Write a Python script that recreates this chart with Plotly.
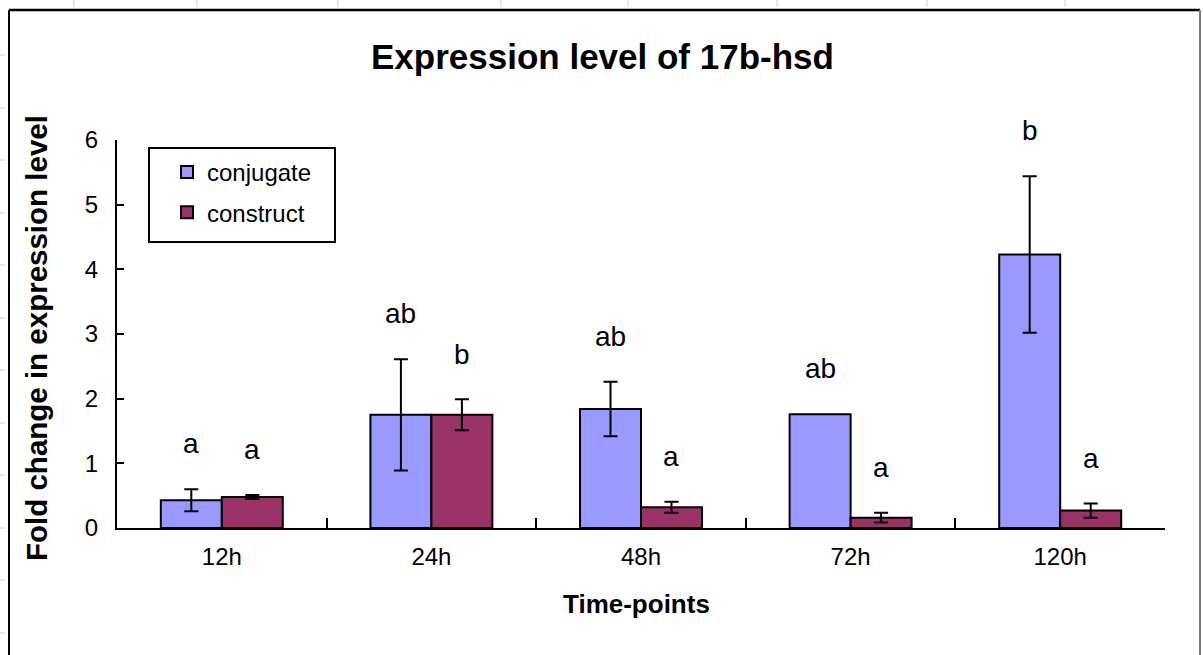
import plotly.graph_objects as go

# Fold change of 17b-hsd expression at each sampling time
time_points = ["12h", "24h", "48h", "72h", "120h"]
conjugate = [0.43, 1.75, 1.84, 1.76, 4.23]
conjugate_err = [0.17, 0.86, 0.42, None, 1.21]
construct = [0.48, 1.75, 0.32, 0.16, 0.27]
construct_err = [0.03, 0.24, 0.085, 0.075, 0.11]
# significance groupings shown above each bar
conjugate_letters = ["a", "ab", "ab", "ab", "b"]
construct_letters = ["a", "b", "a", "a", "a"]
y_ticks = [0, 1, 2, 3, 4, 5, 6]

FONT = "Liberation Sans, Arial, sans-serif"
W, H = 1203, 655
ML, MR, MT, MB = 117, 38, 140, 127
PW, PH = W - ML - MR, H - MT - MB
Y_MAX = 6


def px_x(p):
    return (p - ML) / PW


def px_y(p):
    return (H - MB - p) / PH


def err_array(errs):
    # a missing error is passed as NaN so plotly.js skips that bar's whisker
    return [("NaN" if e is None else e) for e in errs]


fig = go.Figure()
fig.add_trace(go.Bar(
    name="conjugate", x=time_points, y=conjugate, legendgroup="g1",
    marker=dict(color="#9999FF", line=dict(color="black", width=2)),
    error_y=dict(type="data", array=err_array(conjugate_err), color="black", thickness=2, width=7),
))
fig.add_trace(go.Bar(
    name="construct", x=time_points, y=construct, legendgroup="g2",
    marker=dict(color="#993366", line=dict(color="black", width=2)),
    error_y=dict(type="data", array=err_array(construct_err), color="black", thickness=2, width=7),
))

# letters sit a fixed distance above the error-bar caps
bar_half = PW / len(time_points) * (1 - 0.418) / 4
letter_gap = 0.7 * PH / Y_MAX
annotations = []
for vals, errs, letters, shift in [
    (conjugate, conjugate_err, conjugate_letters, -bar_half),
    (construct, construct_err, construct_letters, bar_half),
]:
    for t, v, e, lt in zip(time_points, vals, errs, letters):
        annotations.append(dict(
            x=t, y=v + (e or 0), xref="x", yref="y", text=lt, showarrow=False,
            xshift=shift, yshift=letter_gap, yanchor="middle",
            font=dict(family=FONT, size=28, color="black"),
        ))

annotations.append(dict(
    x=px_x(602), y=px_y(56), xref="paper", yref="paper", text="<b>Expression level of 17b-hsd</b>",
    showarrow=False, xanchor="center", yanchor="middle",
    font=dict(family=FONT, size=35, color="black"),
))
annotations.append(dict(
    x=px_x(36), y=px_y(338), xref="paper", yref="paper",
    text="<b>Fold change in expression level</b>", textangle=-90,
    showarrow=False, xanchor="center", yanchor="middle",
    font=dict(family=FONT, size=29.5, color="black"),
))
annotations.append(dict(
    x=px_x(636), y=px_y(604), xref="paper", yref="paper", text="<b>Time-points</b>",
    showarrow=False, xanchor="center", yanchor="middle",
    font=dict(family=FONT, size=26, color="black"),
))

# outer chart frame, legend box and sheet gridline stubs
shapes = [
    dict(type="line", xref="paper", yref="paper", x0=px_x(9), x1=px_x(1200),
         y0=px_y(10), y1=px_y(10), line=dict(color="black", width=2.5)),
    dict(type="line", xref="paper", yref="paper", x0=px_x(9), x1=px_x(9),
         y0=px_y(10), y1=px_y(700), line=dict(color="black", width=2)),
    dict(type="line", xref="paper", yref="paper", x0=px_x(1200), x1=px_x(1200),
         y0=px_y(10), y1=px_y(700), line=dict(color="#808080", width=2)),
    dict(type="rect", xref="paper", yref="paper", x0=px_x(149), x1=px_x(335),
         y0=px_y(148), y1=px_y(242), line=dict(color="black", width=2), layer="above"),
]
for gx in [74, 197, 338, 501, 628, 777, 927, 1065]:
    shapes.append(dict(type="line", xref="paper", yref="paper", x0=px_x(gx), x1=px_x(gx),
                       y0=px_y(0), y1=px_y(7), line=dict(color="#d0d0d0", width=1)))
for gy in [55, 108, 160, 213, 265, 318, 370, 423, 475, 528, 580, 633]:
    shapes.append(dict(type="line", xref="paper", yref="paper", x0=px_x(0), x1=px_x(5),
                       y0=px_y(gy), y1=px_y(gy), line=dict(color="#d0d0d0", width=1)))

fig.update_layout(
    width=W, height=H,
    margin=dict(l=ML, r=MR, t=MT, b=MB),
    paper_bgcolor="white", plot_bgcolor="white",
    barmode="group", bargap=0.418, bargroupgap=0,
    showlegend=True,
    legend=dict(
        x=px_x(151), y=px_y(150), xanchor="left", yanchor="top",
        bgcolor="rgba(0,0,0,0)", borderwidth=0,
        font=dict(family=FONT, size=24, color="black"),
        traceorder="grouped", tracegroupgap=6, indentation=16,
    ),
    xaxis=dict(
        type="category", showline=True, linecolor="black", linewidth=2,
        ticks="inside", tickson="boundaries", ticklen=10, tickwidth=2, tickcolor="black",
        showgrid=False, zeroline=False, ticklabelstandoff=6,
        tickfont=dict(family=FONT, size=24, color="black"),
    ),
    yaxis=dict(
        range=[0, Y_MAX], tickvals=y_ticks, showline=True, linecolor="black", linewidth=2,
        ticks="inside", ticklen=7, tickwidth=2, tickcolor="black",
        showgrid=False, zeroline=False, ticklabelstandoff=12,
        tickfont=dict(family=FONT, size=24, color="black"),
    ),
    annotations=annotations,
    shapes=shapes,
)

fig.write_html("out.html")
